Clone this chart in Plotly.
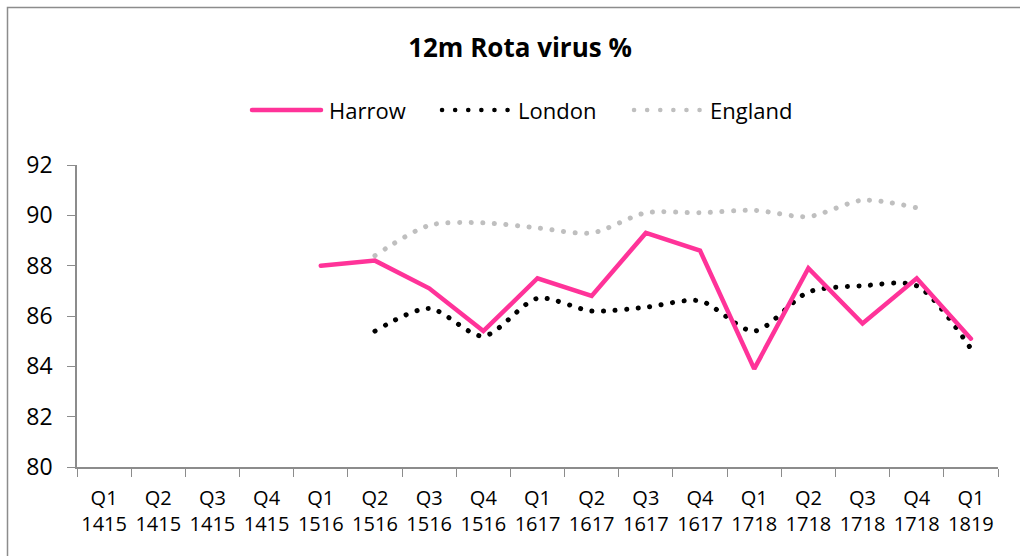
import plotly.graph_objects as go

quarters = ["Q1", "Q2", "Q3", "Q4", "Q1", "Q2", "Q3", "Q4", "Q1", "Q2", "Q3", "Q4",
            "Q1", "Q2", "Q3", "Q4", "Q1"]
years = ["1415", "1415", "1415", "1415", "1516", "1516", "1516", "1516", "1617", "1617",
         "1617", "1617", "1718", "1718", "1718", "1718", "1819"]
categories = [f"{q}<br>{y}" for q, y in zip(quarters, years)]

harrow = [None, None, None, None, 88.0, 88.2, 87.1, 85.4, 87.5, 86.8, 89.3, 88.6,
          83.9, 87.9, 85.7, 87.5, 85.1]
london = [None, None, None, None, None, 85.4, 86.3, 85.2, 86.7, 86.2, 86.35, 86.6,
          85.4, 86.95, 87.2, 87.2, 84.7]
england = [None, None, None, None, None, 88.4, 89.6, 89.7, 89.5, 89.3, 90.1, 90.1,
           90.2, 89.95, 90.6, 90.3, None]

y_ticks = [80, 82, 84, 86, 88, 90, 92]

PINK = "#FF3399"
BLACK = "#000000"
GREY = "#BFBFBF"
AXIS = "#8C8C8C"
FONT = "Open Sans"

fig = go.Figure()
fig.add_trace(go.Scatter(x=categories, y=england, mode="lines", name="England",
                         line=dict(color=GREY, width=5, dash="0.1px,11.5px", shape="spline", smoothing=0.8),
                         showlegend=False))
fig.add_trace(go.Scatter(x=categories, y=london, mode="lines", name="London",
                         line=dict(color=BLACK, width=5, dash="0.1px,11.5px", shape="spline", smoothing=0.8),
                         showlegend=False))
fig.add_trace(go.Scatter(x=categories, y=harrow, mode="lines", name="Harrow",
                         line=dict(color=PINK, width=4.5), showlegend=False))

W, H = 1020, 556
L, R, T, B = 77, 22, 165, 89
pw, ph = W - L - R, H - T - B


def px(x):
    return (x - L) / pw


def py(y):
    return (H - B - y) / ph


shapes = [
    # outer chart border (top and left visible)
    dict(type="rect", xref="paper", yref="paper", x0=px(7.5), x1=px(1030), y0=py(7.5), y1=py(570),
         line=dict(color="#8C8C8C", width=1.5), fillcolor="rgba(0,0,0,0)", layer="below"),
    # legend samples
    dict(type="line", xref="paper", yref="paper", x0=px(252), x1=px(321), y0=py(110), y1=py(110),
         line=dict(color=PINK, width=4.5)),
    dict(type="line", xref="paper", yref="paper", x0=px(442), x1=px(508), y0=py(110), y1=py(110),
         line=dict(color=BLACK, width=4.5, dash="0.1px,13px")),
    dict(type="line", xref="paper", yref="paper", x0=px(634), x1=px(700), y0=py(110), y1=py(110),
         line=dict(color=GREY, width=4.5, dash="0.1px,13px")),
]

annotations = [
    dict(text="Harrow", x=px(327), y=py(110), xref="paper", yref="paper", xanchor="left",
         yanchor="middle", showarrow=False, font=dict(family=FONT, size=22, color="#000")),
    dict(text="London", x=px(516), y=py(110), xref="paper", yref="paper", xanchor="left",
         yanchor="middle", showarrow=False, font=dict(family=FONT, size=22, color="#000")),
    dict(text="England", x=px(708), y=py(110), xref="paper", yref="paper", xanchor="left",
         yanchor="middle", showarrow=False, font=dict(family=FONT, size=22, color="#000")),
]

fig.update_layout(
    width=W, height=H,
    margin=dict(l=L, r=R, t=T, b=B, pad=0),
    paper_bgcolor="white", plot_bgcolor="white",
    title=dict(text="<b>12m Rota virus %</b>", x=px(520), xref="paper", xanchor="center",
               y=1 - 48 / H, yref="container", yanchor="middle",
               font=dict(family=FONT, size=26, color="#000")),
    shapes=shapes, annotations=annotations,
    showlegend=False,
)
fig.update_xaxes(
    type="category", range=[-0.5, 16.5], tickson="boundaries", ticks="outside", ticklen=8,
    tickcolor=AXIS, showline=True, linecolor=AXIS, linewidth=1.5, showgrid=False,
    tickfont=dict(family=FONT, size=20, color="#000"), tickangle=0, ticklabelstandoff=12,
)
fig.update_yaxes(
    range=[80, 92], tickvals=y_ticks, ticks="outside", ticklen=8, tickcolor=AXIS,
    showline=True, linecolor=AXIS, linewidth=1.5, showgrid=False, zeroline=False,
    tickfont=dict(family=FONT, size=23, color="#000"), ticklabelstandoff=10,
)

post = """
document.body.style.margin = '0';
document.body.style.padding = '0';
function roundCaps(){
  document.querySelectorAll('path.js-line, .shapelayer path').forEach(function(p){
    p.style.strokeLinecap = 'round';
  });
}
roundCaps();
setTimeout(roundCaps, 50);
"""
fig.write_html("out.html", post_script=post, config={"displayModeBar": False})
